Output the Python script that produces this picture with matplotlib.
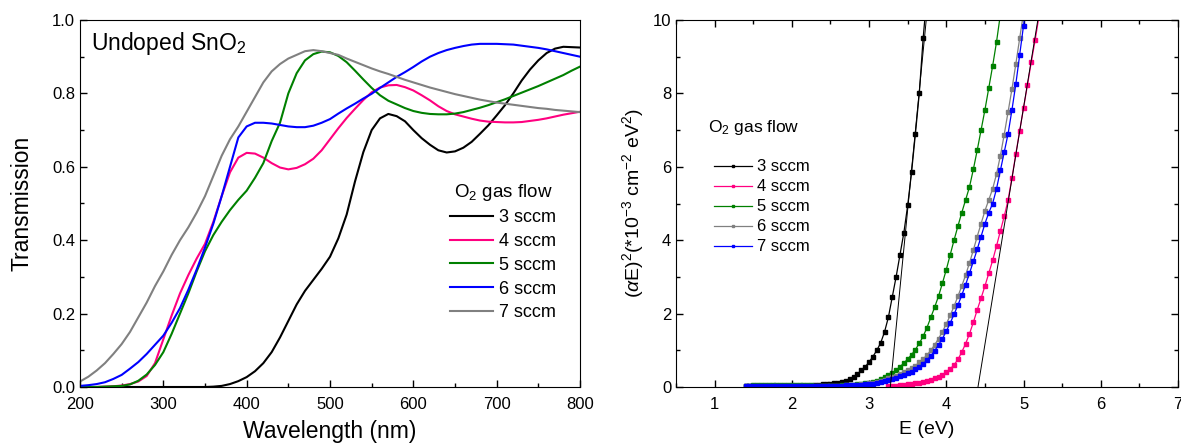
import numpy as np
import matplotlib
matplotlib.use("Agg")
import matplotlib.pyplot as plt
from matplotlib.ticker import MultipleLocator, FormatStrFormatter

plt.rcParams['font.family'] = ['Liberation Sans', 'DejaVu Sans']
plt.rcParams['mathtext.fontset'] = 'custom'
plt.rcParams['mathtext.rm'] = 'Liberation Sans'
plt.rcParams['mathtext.it'] = 'Liberation Sans:italic'

# --- Transmission spectra (left panel) ---
wavelength = list(range(200, 801, 10))

t_3sccm = [0.0, 0.0, 0.0, 0.0, 0.0, 0.0, 0.0, 0.0, 0.0, 0.0,
           0.0, 0.0, 0.0, 0.0, 0.0, 0.0, 0.001, 0.003, 0.008, 0.016,
           0.027, 0.043, 0.065, 0.095, 0.135, 0.18, 0.225, 0.262, 0.292, 0.322,
           0.355, 0.405, 0.47, 0.56, 0.64, 0.70, 0.732, 0.744, 0.738, 0.724,
           0.70, 0.678, 0.66, 0.645, 0.639, 0.642, 0.652, 0.668, 0.69, 0.713,
           0.74, 0.768, 0.80, 0.835, 0.865, 0.89, 0.91, 0.922, 0.927, 0.926,
           0.925]
t_4sccm = [0.0, 0.0, 0.0, 0.001, 0.002, 0.004, 0.008, 0.015, 0.03, 0.065,
           0.13, 0.195, 0.255, 0.305, 0.35, 0.39, 0.45, 0.52, 0.585, 0.625,
           0.638, 0.636, 0.625, 0.61, 0.598, 0.593, 0.597, 0.607, 0.622, 0.645,
           0.675, 0.705, 0.733, 0.758, 0.782, 0.803, 0.816, 0.822, 0.823, 0.817,
           0.808, 0.795, 0.781, 0.765, 0.752, 0.743, 0.737, 0.731, 0.726, 0.723,
           0.722, 0.721, 0.721, 0.722, 0.725, 0.728, 0.732, 0.737, 0.742, 0.746,
           0.75]
t_5sccm = [0.0, 0.0, 0.0, 0.001, 0.002, 0.003, 0.007, 0.017, 0.034, 0.06,
           0.095, 0.145, 0.2, 0.255, 0.315, 0.37, 0.414, 0.45, 0.482, 0.51,
           0.535, 0.57, 0.61, 0.67, 0.72, 0.8, 0.855, 0.89, 0.907, 0.914,
           0.912, 0.902, 0.885, 0.862, 0.838, 0.815, 0.795, 0.78, 0.77, 0.76,
           0.752, 0.747, 0.744, 0.743, 0.743, 0.745, 0.749, 0.755, 0.761, 0.768,
           0.776, 0.784, 0.793, 0.802, 0.811, 0.82, 0.83, 0.84, 0.85, 0.862,
           0.873]
t_6sccm = [0.003, 0.005, 0.008, 0.013, 0.022, 0.033, 0.05, 0.068, 0.09, 0.115,
           0.14, 0.175, 0.215, 0.265, 0.32, 0.38, 0.445, 0.52, 0.6, 0.68,
           0.71, 0.72, 0.72, 0.718, 0.714, 0.71, 0.708, 0.708, 0.712, 0.72,
           0.73, 0.745, 0.759, 0.772, 0.786, 0.799, 0.815, 0.83, 0.845, 0.858,
           0.872, 0.887, 0.90, 0.91, 0.918, 0.924, 0.929, 0.933, 0.935, 0.935,
           0.935, 0.934, 0.933, 0.93, 0.927, 0.924, 0.92, 0.915, 0.91, 0.905,
           0.90]
t_7sccm = [0.015, 0.028, 0.045, 0.065, 0.09, 0.117, 0.15, 0.19, 0.23, 0.275,
           0.315, 0.36, 0.40, 0.435, 0.475, 0.52, 0.575, 0.63, 0.675, 0.71,
           0.75, 0.79, 0.83, 0.86, 0.88, 0.895, 0.905, 0.915, 0.918, 0.915,
           0.91, 0.905, 0.895, 0.886, 0.877, 0.868, 0.86, 0.853, 0.845, 0.837,
           0.83, 0.823, 0.816, 0.81, 0.804, 0.798, 0.793, 0.788, 0.783, 0.779,
           0.775, 0.772, 0.769, 0.766, 0.763, 0.76, 0.758, 0.755, 0.753, 0.751,
           0.749]

# --- Tauc plot (right panel), photon energy sampled every 0.05 eV ---
e_3 = np.round(np.arange(1.40, 3.751, 0.05), 2)
a_3 = [0.03] * 17 + [
    0.04, 0.05, 0.06, 0.07, 0.08, 0.09, 0.10, 0.12, 0.14, 0.17,
    0.22, 0.28, 0.36, 0.45, 0.55, 0.68, 0.83, 1.0, 1.2, 1.5,
    1.9, 2.45, 3.0, 3.6, 4.2, 4.95, 5.85, 6.9, 8.0, 9.5, 10.7]

e_4 = np.round(np.arange(3.25, 5.201, 0.05), 2)
a_4 = [0.02, 0.03, 0.04, 0.05, 0.06, 0.07, 0.085, 0.10, 0.12, 0.14,
       0.17, 0.20, 0.24, 0.28, 0.33, 0.40, 0.49, 0.60, 0.75, 0.95,
       1.18, 1.45, 1.76, 2.1, 2.42, 2.75, 3.1, 3.45, 3.84, 4.25,
       4.65, 5.1, 5.7, 6.35, 6.98, 7.6, 8.22, 8.85, 9.45, 10.1]

e_5 = np.round(np.arange(1.40, 4.701, 0.05), 2)
a_5 = [0.04, 0.04, 0.05, 0.05, 0.05, 0.05, 0.06, 0.06, 0.06, 0.06,
       0.06, 0.06, 0.06, 0.06, 0.05, 0.05, 0.05, 0.05, 0.04, 0.04,
       0.04, 0.04, 0.04, 0.04, 0.04, 0.05, 0.05, 0.05, 0.06, 0.07,
       0.08, 0.10, 0.12, 0.14, 0.17, 0.21, 0.26, 0.32, 0.38, 0.46,
       0.55, 0.65, 0.76, 0.88, 1.02, 1.19, 1.38, 1.62, 1.9, 2.18,
       2.48, 2.83, 3.2, 3.6, 4.0, 4.38, 4.75, 5.1, 5.45, 5.93,
       6.45, 7.0, 7.55, 8.15, 8.75, 9.4, 10.15]

e_6 = np.round(np.arange(1.40, 5.001, 0.05), 2)
a_6 = [0.04] * 26 + [
    0.045, 0.05, 0.05, 0.06,
    0.07, 0.085, 0.10, 0.12, 0.14, 0.17, 0.20, 0.235, 0.27, 0.31,
    0.35, 0.40, 0.45, 0.51, 0.58, 0.67, 0.76, 0.87, 1.0, 1.15,
    1.32, 1.51, 1.72, 1.95, 2.2, 2.47, 2.75, 3.05, 3.38, 3.73,
    4.1, 4.45, 4.8, 5.1, 5.4, 5.8, 6.3, 6.88, 7.5, 8.12,
    8.8, 9.5, 10.2]

e_7 = np.round(np.arange(1.40, 5.051, 0.05), 2)
a_7 = [0.04] * 26 + [
    0.045, 0.05, 0.05, 0.055,
    0.06, 0.07, 0.08, 0.095, 0.11, 0.135, 0.16, 0.19, 0.22, 0.255,
    0.29, 0.33, 0.37, 0.42, 0.48, 0.55, 0.63, 0.73, 0.85, 0.99,
    1.15, 1.32, 1.52, 1.74, 1.98, 2.23, 2.5, 2.79, 3.1, 3.42,
    3.75, 4.1, 4.45, 4.75, 5.0, 5.4, 5.9, 6.4, 6.9, 7.55,
    8.25, 9.05, 9.85, 10.6]

# linear fits used for the band gap
fit1_e = [3.275, 3.74]
fit1_a = [0.0, 10.0]
fit2_e = [4.41, 5.185]
fit2_a = [0.0, 10.0]

labels = ['3 sccm', '4 sccm', '5 sccm', '6 sccm', '7 sccm']
black, pink, green, blue, gray = '#000000', '#FF0080', '#008000', '#0000FF', '#808080'

fig = plt.figure(figsize=(11.81, 4.43), dpi=100)
ax1 = fig.add_axes([80 / 1181, 56 / 443, 500 / 1181, 367 / 443])
ax2 = fig.add_axes([676 / 1181, 56 / 443, 502 / 1181, 367 / 443])

# --- left panel ---
for t, c, lab in zip([t_3sccm, t_4sccm, t_5sccm, t_6sccm, t_7sccm],
                     [black, pink, green, blue, gray], labels):
    ax1.plot(wavelength, t, color=c, lw=1.5, label=lab)
ax1.set_xlim(200, 800)
ax1.set_ylim(0, 1.0)
ax1.xaxis.set_major_locator(MultipleLocator(100))
ax1.xaxis.set_minor_locator(MultipleLocator(50))
ax1.yaxis.set_major_locator(MultipleLocator(0.2))
ax1.yaxis.set_minor_locator(MultipleLocator(0.1))
ax1.yaxis.set_major_formatter(FormatStrFormatter('%.1f'))
ax1.tick_params(which='both', direction='in', top=False, right=False, labelsize=12, width=1)
ax1.tick_params(which='major', length=5)
ax1.tick_params(which='minor', length=3)
ax1.tick_params(axis='x', pad=7)
ax1.set_xlabel('Wavelength (nm)', fontsize=16.5, labelpad=6)
ax1.set_ylabel('Transmission', fontsize=16.5, labelpad=13)
ax1.text(0.022, 0.918, 'Undoped SnO$_2$', transform=ax1.transAxes, fontsize=16.5)
ax1.text(0.748, 0.531, 'O$_2$ gas flow', transform=ax1.transAxes, fontsize=13.5, va='center')
ax1.legend(loc='upper left', bbox_to_anchor=(0.74, 0.485),
           frameon=False, fontsize=13, handlelength=2.4,
           handletextpad=0.3, labelspacing=0.38, borderpad=0, borderaxespad=0)

# --- right panel ---
series = [(e_3, a_3, black), (e_4, a_4, pink), (e_5, a_5, green), (e_6, a_6, gray), (e_7, a_7, blue)]
for (e, a, c), lab in zip(series, labels):
    ax2.plot(e, a, color=c, lw=0.9, marker='s', ms=2.4, mec=c, mfc=c, label=lab)
ax2.plot(fit1_e, fit1_a, color='black', lw=0.7)
ax2.plot(fit2_e, fit2_a, color='black', lw=0.7)
ax2.set_xlim(0.5, 7)
ax2.set_ylim(0, 10)
ax2.xaxis.set_major_locator(MultipleLocator(1))
ax2.xaxis.set_minor_locator(MultipleLocator(0.5))
ax2.yaxis.set_major_locator(MultipleLocator(2))
ax2.yaxis.set_minor_locator(MultipleLocator(1))
ax2.tick_params(which='both', direction='in', top=True, right=True, labelsize=12, width=1)
ax2.tick_params(which='major', length=5)
ax2.tick_params(which='minor', length=3)
ax2.tick_params(axis='x', pad=7)
ax2.set_xlabel('E (eV)', fontsize=14, labelpad=7)
ax2.set_ylabel('($\\alpha$E)$^2$(*10$^{-3}$ cm$^{-2}$ eV$^2$)', fontsize=14, labelpad=5)
ax2.text(0.064, 0.707, 'O$_2$ gas flow', transform=ax2.transAxes, fontsize=12.5, va='center')
ax2.legend(loc='upper left', bbox_to_anchor=(0.0757, 0.62),
           frameon=False, fontsize=12, handlelength=2.3, markerscale=0.75,
           handletextpad=0.3, labelspacing=0.3, borderpad=0, borderaxespad=0)

fig.savefig('out.png', dpi=100)
